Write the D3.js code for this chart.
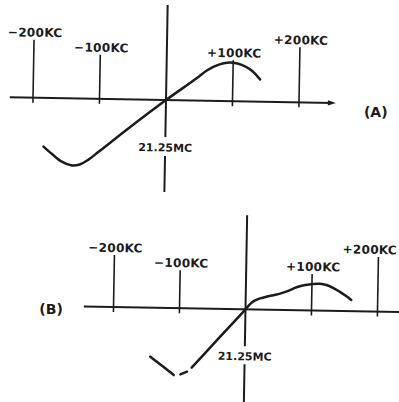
<!DOCTYPE html>
<html>
<head>
<meta charset="utf-8">
<script src="https://cdn.jsdelivr.net/npm/d3@7"></script>
<style>
  body { margin: 0; background: #fff; }
  svg { display: block; }
  text { font-family: "DejaVu Sans", sans-serif; font-weight: bold; fill: #1c1c1c; }
</style>
</head>
<body>
<svg id="chart"></svg>
<script>
// frequency offsets of the marker lines (kc from 21.25 mc)
var tickKc = [-200, -100, 100, 200]
var tickLabels = ["\u2212200KC", "\u2212100KC", "+100KC", "+200KC"]
var centerLabel = "21.25MC"
var panelLabels = ["(A)", "(B)"]

// curve (A): detector output vs frequency offset
var freqA = [-183, -170, -155, -141, -128, -115, -100, -55, 0, 45, 60, 72, 86, 100, 113, 127, 141]
var respA = [-48.7, -56, -63.5, -67, -66, -61, -53, -28.6, 0, 22, 30, 34.5, 37.8, 38.4, 36.5, 31.5, 22.2]

// curve (B): null marks the breaks in the drawn trace
var freqB = [-143, -130, -120, -107, -102, -97, -87, -83, -80, -40, 0, 6, 13.6, 22, 31.4, 45, 56.5, 67, 76.8, 90, 102, 112, 122, 132, 142, 151, 160]
var respB = [-49, -55.5, -60.4, -67, null, -66.2, -63.4, null, -59.3, -29.6, 0, 4.8, 8.8, 11.2, 13, 15, 17.3, 20, 22.9, 25.3, 26.5, 26.8, 25.7, 23, 19.3, 15.5, 11.2]

var dimensions = { width: 399, height: 402 }

var svg = d3.select("#chart")
    .attr("width", dimensions.width)
    .attr("height", dimensions.height)

var ink = "#1c1c1c"

var panels = [
    { label: panelLabels[0], ox: 166, oy: 100, pxPerKc: 0.665,
      freq: freqA, resp: respA,
      axisFrom: -235, axisTo: 251,
      vTop: 95, vBottom: -92, gap: [-37, -56],
      tickTops: [58, 44, 41, 55], fontSize: 12,
      labelDx: 31, labelDy: 17, labelSide: "right" },
    { label: panelLabels[1], ox: 245.5, oy: 309.3, pxPerKc: 0.66,
      freq: freqB, resp: respB,
      axisFrom: -245, axisTo: 245,
      vTop: 94, vBottom: -95, gap: [-37, -55],
      tickTops: [52, 38, 36.5, 54.6], fontSize: 12,
      labelDx: -21, labelDy: 5, labelSide: "left" }
]

panels.forEach(function (p) {
    var xScale = d3.scaleLinear()
        .domain([-200, 200])
        .range([p.ox - 200 * p.pxPerKc, p.ox + 200 * p.pxPerKc])
    var yScale = d3.scaleLinear()
        .domain([-100, 100])
        .range([p.oy + 100, p.oy - 100])

    // the scan is turned about one degree clockwise
    var g = svg.append("g")
        .attr("transform", "rotate(1," + p.ox + "," + p.oy + ")")

    // frequency axis with arrow
    g.append("line")
        .attr("x1", xScale(p.axisFrom))
        .attr("y1", yScale(0))
        .attr("x2", xScale(p.axisTo))
        .attr("y2", yScale(0))
        .attr("stroke", ink)
        .attr("stroke-width", 2)
    var ax = xScale(p.axisTo)
    g.append("path")
        .attr("d", "M" + (ax + 3) + "," + yScale(0) + "l-8,-2.6l0,5.2z")
        .attr("fill", ink)

    // vertical axis at 21.25 mc, broken around its label
    g.selectAll(".vaxis")
        .data([[p.vTop, p.gap[0]], [p.gap[1], p.vBottom]])
        .enter()
        .append("line")
        .attr("x1", xScale(0))
        .attr("x2", xScale(0))
        .attr("y1", d => yScale(d[0]))
        .attr("y2", d => yScale(d[1]))
        .attr("stroke", ink)
        .attr("stroke-width", 2)

    g.append("text")
        .attr("x", xScale(0))
        .attr("y", yScale((p.gap[0] + p.gap[1]) / 2) + 5)
        .attr("text-anchor", "middle")
        .attr("font-size", 11)
        .text(centerLabel)

    // marker lines with their labels
    var ticks = g.selectAll(".tick")
        .data(tickKc)
        .enter()
        .append("g")
    ticks.append("line")
        .attr("x1", d => xScale(d))
        .attr("x2", d => xScale(d))
        .attr("y1", (d, i) => yScale(p.tickTops[i]))
        .attr("y2", yScale(-5))
        .attr("stroke", ink)
        .attr("stroke-width", 1.6)
    ticks.append("text")
        .attr("x", d => xScale(d) + 1)
        .attr("y", (d, i) => yScale(p.tickTops[i]) - 3)
        .attr("text-anchor", "middle")
        .attr("font-size", p.fontSize)
        .style("letter-spacing", "0.3px")
        .text((d, i) => tickLabels[i])
        .each(function (d) {
            // keep a label inside the page if it runs past the right edge
            var w = this.getComputedTextLength()
            var cx = xScale(d) + 1
            var maxCx = dimensions.width - 3 - w / 2
            if (cx > maxCx) d3.select(this).attr("x", maxCx)
        })

    // response curve
    var pts = p.freq.map((f, i) => [f, p.resp[i]])
    var line = d3.line()
        .defined(d => d[1] != null)
        .x(d => xScale(d[0]))
        .y(d => yScale(d[1]))
        .curve(d3.curveCatmullRom)
    g.append("path")
        .datum(pts)
        .attr("d", line)
        .attr("fill", "none")
        .attr("stroke", ink)
        .attr("stroke-width", 2.5)
        .attr("stroke-linecap", "round")

    // panel letter
    var lx = p.labelSide == "right" ? xScale(p.axisTo) + p.labelDx : xScale(p.axisFrom) + p.labelDx
    svg.append("text")
        .attr("x", lx)
        .attr("y", p.oy + p.labelDy)
        .attr("text-anchor", p.labelSide == "right" ? "start" : "end")
        .attr("font-size", 14)
        .text(p.label)
})
</script>
</body>
</html>
